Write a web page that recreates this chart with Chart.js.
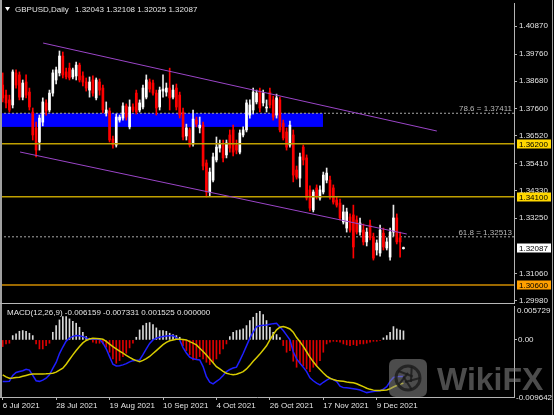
<!DOCTYPE html>
<html><head><meta charset="utf-8">
<script src="https://cdn.jsdelivr.net/npm/chart.js@4/dist/chart.umd.min.js"></script>
<style>
html,body{margin:0;padding:0;background:#000;}
#wrap{position:relative;width:554px;height:415px;background:#000;overflow:hidden;}
canvas{position:absolute;left:0;}
</style></head><body>
<div id="wrap">
<canvas id="main" width="554" height="304" style="top:0"></canvas>
<canvas id="macd" width="554" height="111" style="top:304px"></canvas>
</div>
<script>
// ---------- DATA ----------
const symbolTitle = 'GBPUSD,Daily';
const openP = [1.3853,1.3813,1.3794,1.3774,1.3901,1.3893,1.3805,1.3865,1.3825,1.3746,
1.3683,1.3627,1.3706,1.3782,1.3754,1.3821,1.3873,1.3901,1.3968,1.3905,
1.3920,1.3885,1.3889,1.3932,1.3889,1.3865,1.3833,1.3873,1.3802,1.3865,
1.3841,1.3742,1.3750,1.3639,1.3615,1.3714,1.3722,1.3770,1.3687,1.3766,
1.3821,1.3754,1.3766,1.3805,1.3865,1.3861,1.3821,1.3766,1.3829,1.3825,
1.3841,1.3805,1.3841,1.3813,1.3746,1.3651,1.3675,1.3619,1.3714,1.3683,
1.3694,1.3544,1.3429,1.3476,1.3556,1.3603,1.3615,1.3576,1.3655,1.3675,
1.3615,1.3587,1.3655,1.3675,1.3734,1.3754,1.3786,1.3829,1.3782,1.3762,
1.3825,1.3794,1.3734,1.3794,1.3702,1.3667,1.3615,1.3655,1.3516,1.3484,
1.3607,1.3564,1.3437,1.3358,1.3445,1.3405,1.3429,1.3476,1.3476,1.3445,
1.3397,1.3385,1.3310,1.3286,1.3330,1.3338,1.3318,1.3270,1.3278,1.3231,
1.3298,1.3251,1.3199,1.3187,1.3266,1.3207,1.3171,1.3270,1.3326,1.3247,
1.32043];
const highP = [1.3901,1.3833,1.3813,1.3913,1.3913,1.3905,1.3873,1.3893,1.3841,1.3762,
1.3706,1.3734,1.3802,1.3794,1.3833,1.3913,1.3924,1.3988,1.3984,1.3920,
1.3940,1.3920,1.3944,1.3940,1.3905,1.3881,1.3885,1.3889,1.3881,1.3877,
1.3853,1.3786,1.3762,1.3651,1.3738,1.3734,1.3782,1.3778,1.3794,1.3778,
1.3833,1.3794,1.3853,1.3893,1.3877,1.3873,1.3833,1.3845,1.3893,1.3861,
1.3920,1.3853,1.3857,1.3825,1.3762,1.3698,1.3683,1.3754,1.3726,1.3726,
1.3706,1.3556,1.3524,1.3583,1.3647,1.3635,1.3635,1.3635,1.3675,1.3694,
1.3635,1.3675,1.3687,1.3794,1.3794,1.3841,1.3833,1.3841,1.3833,1.3794,
1.3841,1.3809,1.3817,1.3805,1.3714,1.3683,1.3710,1.3675,1.3532,1.3583,
1.3615,1.3576,1.3453,1.3437,1.3457,1.3453,1.3508,1.3524,1.3492,1.3457,
1.3409,1.3401,1.3377,1.3365,1.3342,1.3377,1.3334,1.3326,1.3302,1.3286,
1.3318,1.3266,1.3239,1.3298,1.3286,1.3247,1.3286,1.3377,1.3342,1.3270,
1.32108];
const lowP = [1.3786,1.3762,1.3746,1.3762,1.3841,1.3794,1.3794,1.3802,1.3754,1.3635,
1.3568,1.3595,1.3691,1.3734,1.3746,1.3809,1.3857,1.3889,1.3881,1.3877,
1.3873,1.3877,1.3873,1.3865,1.3849,1.3829,1.3805,1.3809,1.3794,1.3813,
1.3742,1.3730,1.3627,1.3603,1.3607,1.3706,1.3714,1.3714,1.3679,1.3746,
1.3738,1.3746,1.3758,1.3798,1.3825,1.3813,1.3734,1.3754,1.3805,1.3809,
1.3754,1.3798,1.3754,1.3722,1.3635,1.3635,1.3607,1.3611,1.3687,1.3663,
1.3516,1.3409,1.3413,1.3469,1.3548,1.3587,1.3548,1.3564,1.3587,1.3572,
1.3580,1.3580,1.3647,1.3667,1.3722,1.3738,1.3778,1.3746,1.3770,1.3746,
1.3762,1.3714,1.3722,1.3667,1.3635,1.3595,1.3607,1.3469,1.3480,1.3449,
1.3536,1.3397,1.3354,1.3350,1.3401,1.3397,1.3421,1.3465,1.3401,1.3381,
1.3369,1.3318,1.3302,1.3270,1.3270,1.3167,1.3262,1.3258,1.3219,1.3215,
1.3239,1.3159,1.3179,1.3175,1.3199,1.3199,1.3159,1.3254,1.3223,1.3171,
1.32025];
const closeP = [1.3802,1.3782,1.3754,1.3905,1.3853,1.3805,1.3861,1.3813,1.3766,1.3655,
1.3595,1.3722,1.3786,1.3750,1.3821,1.3901,1.3913,1.3968,1.3893,1.3885,
1.3881,1.3913,1.3932,1.3873,1.3865,1.3841,1.3865,1.3821,1.3873,1.3833,
1.3754,1.3754,1.3635,1.3615,1.3726,1.3726,1.3770,1.3726,1.3766,1.3754,
1.3746,1.3782,1.3841,1.3873,1.3837,1.3821,1.3762,1.3833,1.3837,1.3841,
1.3802,1.3833,1.3766,1.3734,1.3647,1.3683,1.3615,1.3718,1.3698,1.3694,
1.3532,1.3429,1.3508,1.3568,1.3607,1.3619,1.3564,1.3623,1.3603,1.3587,
1.3595,1.3663,1.3675,1.3782,1.3774,1.3825,1.3821,1.3762,1.3821,1.3766,
1.3774,1.3726,1.3802,1.3675,1.3643,1.3607,1.3694,1.3496,1.3488,1.3568,
1.3556,1.3405,1.3365,1.3429,1.3413,1.3437,1.3496,1.3504,1.3409,1.3389,
1.3377,1.3326,1.3350,1.3350,1.3278,1.3211,1.3270,1.3306,1.3231,1.3270,
1.3247,1.3167,1.3227,1.3278,1.3211,1.3231,1.3270,1.3326,1.3231,1.3231,
1.32087];

const macdLine = [-0.00704,-0.00704,-0.00700,-0.00600,-0.00550,-0.00535,-0.00520,-0.00495,-0.00510,-0.00600,
-0.00690,-0.00700,-0.00680,-0.00647,-0.00590,-0.00480,-0.00380,-0.00230,-0.00120,-0.00020,
0.00030,0.00060,0.00073,0.00070,0.00056,0.00035,0.00012,0.00010,0.00012,0.00010,
-0.00050,-0.00150,-0.00282,-0.00410,-0.00440,-0.00435,-0.00422,-0.00400,-0.00370,-0.00350,
-0.00345,-0.00338,-0.00250,-0.00150,-0.00060,0.00000,0.00029,0.00045,0.00056,0.00065,
0.00070,0.00073,0.00040,0.00000,-0.00130,-0.00220,-0.00290,-0.00320,-0.00330,-0.00338,
-0.00450,-0.00620,-0.00714,-0.00743,-0.00700,-0.00660,-0.00600,-0.00535,-0.00500,-0.00475,
-0.00461,-0.00350,-0.00230,-0.00100,0.00029,0.00130,0.00225,0.00240,0.00248,0.00253,
0.00265,0.00275,0.00282,0.00220,0.00160,0.00080,0.00000,-0.00200,-0.00320,-0.00394,
-0.00460,-0.00535,-0.00640,-0.00690,-0.00730,-0.00760,-0.00715,-0.00680,-0.00650,-0.00670,
-0.00704,-0.00780,-0.00806,-0.00810,-0.00816,-0.00825,-0.00835,-0.00845,-0.00870,-0.00890,
-0.00880,-0.00873,-0.00865,-0.00858,-0.00830,-0.00790,-0.00700,-0.00635,-0.00620,-0.00618,
-0.006159];
const signalLine = [-0.00591,-0.00625,-0.00647,-0.00645,-0.00635,-0.00630,-0.00615,-0.00600,-0.00585,-0.00574,
-0.00574,-0.00574,-0.00574,-0.00572,-0.00568,-0.00562,-0.00545,-0.00510,-0.00478,-0.00410,
-0.00330,-0.00253,-0.00180,-0.00110,-0.00050,-0.00010,0.00015,0.00029,0.00025,0.00018,
0.00012,-0.00025,-0.00070,-0.00113,-0.00150,-0.00190,-0.00225,-0.00260,-0.00295,-0.00326,
-0.00350,-0.00367,-0.00345,-0.00315,-0.00280,-0.00230,-0.00180,-0.00130,-0.00080,-0.00040,
-0.00015,0.00000,0.00012,0.00010,0.00005,0.00000,-0.00030,-0.00055,-0.00084,-0.00140,
-0.00195,-0.00253,-0.00320,-0.00385,-0.00451,-0.00490,-0.00530,-0.00562,-0.00578,-0.00590,
-0.00580,-0.00560,-0.00535,-0.00490,-0.00430,-0.00360,-0.00300,-0.00240,-0.00170,-0.00100,
0.00000,0.00090,0.00170,0.00215,0.00225,0.00210,0.00185,0.00130,0.00040,-0.00030,
-0.00110,-0.00200,-0.00290,-0.00370,-0.00440,-0.00500,-0.00560,-0.00610,-0.00647,-0.00670,
-0.00685,-0.00692,-0.00700,-0.00710,-0.00718,-0.00725,-0.00740,-0.00765,-0.00790,-0.00816,
-0.00835,-0.00848,-0.00856,-0.00855,-0.00850,-0.00845,-0.00825,-0.00795,-0.00770,-0.00745,
-0.007331];
const histogram = [-0.00113,-0.00068,-0.00056,0.00073,0.00101,0.00146,0.00158,0.00146,0.00113,0.00073,
-0.00068,-0.00152,-0.00152,-0.00096,-0.00056,0.00129,0.00242,0.00338,0.00394,0.00394,
0.00355,0.00315,0.00282,0.00214,0.00129,0.00056,0.00028,-0.00039,-0.00056,-0.00056,
-0.00068,-0.00124,-0.00208,-0.00321,-0.00394,-0.00349,-0.00282,-0.00225,-0.00135,-0.00056,
0.00045,0.00169,0.00242,0.00282,0.00293,0.00259,0.00203,0.00158,0.00158,0.00146,
0.00113,0.00090,0.00073,0.00045,-0.00096,-0.00180,-0.00248,-0.00338,-0.00321,-0.00282,
-0.00321,-0.00377,-0.00417,-0.00377,-0.00321,-0.00236,-0.00152,-0.00068,0.00056,0.00129,
0.00158,0.00169,0.00186,0.00242,0.00327,0.00383,0.00450,0.00484,0.00428,0.00327,
0.00214,0.00129,0.00090,0.00040,-0.00096,-0.00208,-0.00180,-0.00360,-0.00462,-0.00394,
-0.00434,-0.00490,-0.00535,-0.00462,-0.00434,-0.00349,-0.00208,-0.00068,-0.00039,-0.00023,
-0.00028,-0.00039,-0.00068,-0.00084,-0.00096,-0.00079,-0.00096,-0.00068,-0.00068,-0.00056,
-0.00039,-0.00023,-0.00023,-0.00005,0.00034,0.00073,0.00129,0.00225,0.00186,0.00165,
0.001525];
const macdParams = '12,26,9';
const macdShift = 0.000000;

const dateTickIndex = [0,16,32,48,64,80,96,112];
const dateTickLabels = ['6 Jul 2021','28 Jul 2021','19 Aug 2021','10 Sep 2021','4 Oct 2021','26 Oct 2021','17 Nov 2021','9 Dec 2021'];
const priceTicks = [1.40870,1.39760,1.38680,1.37600,1.36520,1.35410,1.34330,1.33250,1.31060,1.29980];
const priceRange = [1.29889,1.41782];
const macdRange = [-0.009642,0.005729];
const levelLines = [1.36200,1.34100,1.30600];
const fiboLevels = [78.6,61.8];
const fiboPrices = [1.37411,1.32513];
const channelUpperIdx = [12.1,130.0], channelUpperPrice = [1.40195,1.36707];
const channelLowerIdx = [5.2,121.0], channelLowerPrice = [1.35875,1.32624];
const zoneIdx = [-3,95.9], zonePrice = [1.37411,1.3687];

// ---------- STYLE ----------
const FONT = "'Liberation Sans', Arial, sans-serif";
const TXT = '#e4e4e4';
const AXIS = '#b4b4b4';
const BULL = '#ffffff', BEAR = '#ff0000';
const levelColors = ['#c0a000','#c0a000','#d08c00'];
const levelBoxColors = ['#ffd700','#ffd700','#ffa000'];
const X_MIN = -0.81, X_MAX = 153.1;
Chart.defaults.font.family = FONT;
Chart.defaults.font.size = 8;
Chart.defaults.color = TXT;

const N = closeP.length;
const idx = closeP.map((_, i) => i);
const isBull = i => closeP[i] >= openP[i];

function fixW(scale){ scale.width = 40; scale.paddingTop = 0; scale.paddingBottom = 0; }

const datasets = [];
// fibo dotted lines
fiboPrices.forEach(p => datasets.push({type:'line', data:[{x:X_MIN,y:p},{x:X_MAX,y:p}],
  borderColor:'#a8a8a8', borderWidth:1, borderDash:[2,2], pointRadius:0, order:6}));
// candles
datasets.push({type:'bar', data: idx.map(i => ({x:i, y:[lowP[i], highP[i]]})),
  backgroundColor: idx.map(i => isBull(i) ? '#e8e8e8' : BEAR), barThickness:1, grouped:false, order:5, borderWidth:0});
datasets.push({type:'bar', data: idx.map(i => ({x:i, y:[openP[i], closeP[i]]})),
  backgroundColor: idx.map(i => isBull(i) ? BULL : BEAR), barThickness:2, minBarLength:1, grouped:false, order:4, borderWidth:0});
// level lines
levelLines.forEach((p,k) => datasets.push({type:'line', data:[{x:X_MIN,y:p},{x:X_MAX,y:p}],
  borderColor: levelColors[k], borderWidth:1.6, pointRadius:0, order:1}));
// channel
datasets.push({type:'line', data: channelUpperIdx.map((x,k)=>({x, y:channelUpperPrice[k]})), borderColor:'#9b45c8', borderWidth:1, pointRadius:0, order:0});
datasets.push({type:'line', data: channelLowerIdx.map((x,k)=>({x, y:channelLowerPrice[k]})), borderColor:'#9b45c8', borderWidth:1, pointRadius:0, order:0});

const mainDecor = {
  id:'mainDecor',
  beforeDatasetsDraw(chart){
    const {ctx, chartArea:a, scales:{x,y}} = chart;
    ctx.save();
    ctx.beginPath(); ctx.rect(a.left,a.top,a.right-a.left,a.bottom-a.top); ctx.clip();
    const x0 = x.getPixelForValue(zoneIdx[0]), x1 = x.getPixelForValue(zoneIdx[1]);
    const y0 = y.getPixelForValue(zonePrice[0]), y1 = y.getPixelForValue(zonePrice[1]);
    ctx.fillStyle = '#0000ff';
    ctx.fillRect(x0, y0, x1-x0, y1-y0);
    ctx.restore();
  },
  afterDraw(chart){
    const {ctx, chartArea:a, scales:{x,y}} = chart;
    ctx.save();
    ctx.font = '8px ' + FONT;
    // fibo texts
    ctx.fillStyle = '#b8b8b8'; ctx.textAlign = 'right'; ctx.textBaseline = 'alphabetic';
    fiboPrices.forEach((p,k) => {
      ctx.fillText(fiboLevels[k].toFixed(1) + ' = ' + p.toFixed(5), a.right - 2, y.getPixelForValue(p) - 2);
    });
    // price boxes
    ctx.textAlign = 'left'; ctx.textBaseline = 'middle';
    const box = (p, bg) => {
      const py = Math.round(y.getPixelForValue(p));
      ctx.fillStyle = bg; ctx.fillRect(a.right + 3, py - 4.5, 34, 9);
      ctx.fillStyle = '#000'; ctx.fillText(p.toFixed(5), a.right + 5, py + 0.5);
    };
    levelLines.forEach((p,k) => box(p, levelBoxColors[k]));
    box(closeP[N-1], '#ffffff');
    // frame
    ctx.fillStyle = '#a0a0a0';
    ctx.fillRect(0, 0, 2, chart.height);
    ctx.fillRect(552, 0, 1, chart.height);
    ctx.fillStyle = '#b8b8b8';
    ctx.fillRect(0, a.bottom, a.right, 1);
    ctx.fillRect(0, a.bottom + 1.5, a.right, 1);
    // header
    ctx.fillStyle = '#ffffff';
    ctx.beginPath(); ctx.moveTo(5,7); ctx.lineTo(10,7); ctx.lineTo(7.5,11); ctx.closePath(); ctx.fill();
    ctx.fillStyle = TXT; ctx.textAlign = 'left'; ctx.textBaseline = 'middle';
    ctx.fillText(symbolTitle, 15, 9.5);
    ctx.fillText([openP[N-1],highP[N-1],lowP[N-1],closeP[N-1]].map(v=>v.toFixed(5)).join(' '), 75, 9.5);
    ctx.restore();
  }
};

new Chart(document.getElementById('main'), {
  type:'bar',
  data:{datasets},
  options:{
    responsive:false, animation:false, devicePixelRatio:1,
    layout:{padding:{left:0,right:0,top:3,bottom:1}},
    plugins:{legend:{display:false}, tooltip:{enabled:false}},
    scales:{
      x:{type:'linear', min:X_MIN, max:X_MAX, offset:false, display:false, grid:{offset:false}},
      y:{type:'linear', position:'right', min:priceRange[0], max:priceRange[1],
         afterBuildTicks: s => { s.ticks = priceTicks.map(v => ({value:v})); },
         afterFit: fixW,
         ticks:{autoSkip:false, padding:2, color:TXT, font:{size:8}, callback: v => Number(v).toFixed(5)},
         grid:{drawOnChartArea:false, drawTicks:true, tickLength:3, color:AXIS},
         border:{display:true, color:AXIS}}
    }
  },
  plugins:[mainDecor]
});

// ---------- MACD ----------
const macdDecor = {
  id:'macdDecor',
  afterDraw(chart){
    const {ctx, chartArea:a, scales:{y}} = chart;
    ctx.save();
    ctx.font = '8px ' + FONT; ctx.fillStyle = TXT; ctx.textBaseline = 'middle'; ctx.textAlign = 'left';
    ctx.fillText('MACD(' + macdParams + ') ' + [macdLine[N-1], signalLine[N-1], histogram[N-1], macdShift].map(v=>v.toFixed(6)).join(' '), 7, 9);
    ctx.fillText(macdRange[1].toFixed(6), a.right + 3, y.getPixelForValue(macdRange[1]) + 5);
    ctx.fillText(macdRange[0].toFixed(6), a.right + 2, y.getPixelForValue(macdRange[0]) + 1);
    ctx.fillStyle = '#a0a0a0';
    ctx.fillRect(0, 0, 2, a.bottom);
    ctx.fillRect(552, 0, 1, chart.height);
    // watermark
    ctx.globalAlpha = 0.55;
    ctx.fillStyle = '#8a8a8a';
    const rx = 389, ry = 55, rs = 38, rr = 7;
    ctx.beginPath();
    ctx.moveTo(rx+rr, ry); ctx.lineTo(rx+rs-rr, ry); ctx.quadraticCurveTo(rx+rs, ry, rx+rs, ry+rr);
    ctx.lineTo(rx+rs, ry+rs-rr); ctx.quadraticCurveTo(rx+rs, ry+rs, rx+rs-rr, ry+rs);
    ctx.lineTo(rx+rr, ry+rs); ctx.quadraticCurveTo(rx, ry+rs, rx, ry+rs-rr);
    ctx.lineTo(rx, ry+rr); ctx.quadraticCurveTo(rx, ry, rx+rr, ry); ctx.closePath(); ctx.fill();
    ctx.globalAlpha = 0.8;
    ctx.strokeStyle = '#1a1a1a'; ctx.lineWidth = 3;
    ctx.beginPath(); ctx.arc(rx+19, ry+19, 12, 0, Math.PI*2); ctx.stroke();
    ctx.lineWidth = 2;
    for (let k = 0; k < 5; k++) {
      const t = k * Math.PI * 2 / 5;
      ctx.beginPath(); ctx.moveTo(rx+19+Math.cos(t)*12, ry+19+Math.sin(t)*12);
      ctx.lineTo(rx+19+Math.cos(t+2.2)*5, ry+19+Math.sin(t+2.2)*5); ctx.stroke();
    }
    ctx.globalAlpha = 0.55;
    ctx.fillStyle = '#8a8a8a';
    ctx.font = 'bold 32px ' + FONT; ctx.textBaseline = 'alphabetic';
    ctx.fillText('WikiFX', 437, 86);
    ctx.restore();
  }
};

new Chart(document.getElementById('macd'), {
  type:'bar',
  data:{datasets:[
    {type:'line', data: idx.map(i => ({x:i, y:signalLine[i]})), borderColor:'#d8cc00', borderWidth:1.5, pointRadius:0, order:0},
    {type:'line', data: idx.map(i => ({x:i, y:macdLine[i]})), borderColor:'#1f1fff', borderWidth:1.5, pointRadius:0, order:1},
    {type:'bar', data: idx.map(i => ({x:i, y:histogram[i]})), backgroundColor: idx.map(i => histogram[i] >= 0 ? '#d8d8d8' : '#dd0000'),
     barThickness:1, grouped:false, borderWidth:0, order:2}
  ]},
  options:{
    responsive:false, animation:false, devicePixelRatio:1,
    layout:{padding:{left:0,right:0,top:2,bottom:0}},
    plugins:{legend:{display:false}, tooltip:{enabled:false}},
    scales:{
      x:{type:'linear', min:X_MIN, max:X_MAX, offset:false,
         afterBuildTicks: s => { s.ticks = dateTickIndex.map(v => ({value:v})); },
         afterFit: s => { s.height = 18; s.paddingLeft = 0; s.paddingRight = 0; },
         ticks:{autoSkip:false, maxRotation:0, minRotation:0, align:'start', padding:1, color:TXT, font:{size:8},
                callback: v => { const k = dateTickIndex.indexOf(v); return k >= 0 ? dateTickLabels[k] : ''; }},
         grid:{drawOnChartArea:false, drawTicks:true, tickLength:3, color:AXIS, offset:false},
         border:{display:true, color:AXIS}},
      y:{type:'linear', position:'right', min:macdRange[0], max:macdRange[1],
         afterBuildTicks: s => { s.ticks = [{value:0}]; },
         afterFit: fixW,
         ticks:{autoSkip:false, padding:1, color:TXT, font:{size:8}, callback: v => Number(v).toFixed(2)},
         grid:{drawOnChartArea:false, drawTicks:true, tickLength:3, color:AXIS},
         border:{display:true, color:AXIS}}
    }
  },
  plugins:[macdDecor]
});
</script>
</body></html>
